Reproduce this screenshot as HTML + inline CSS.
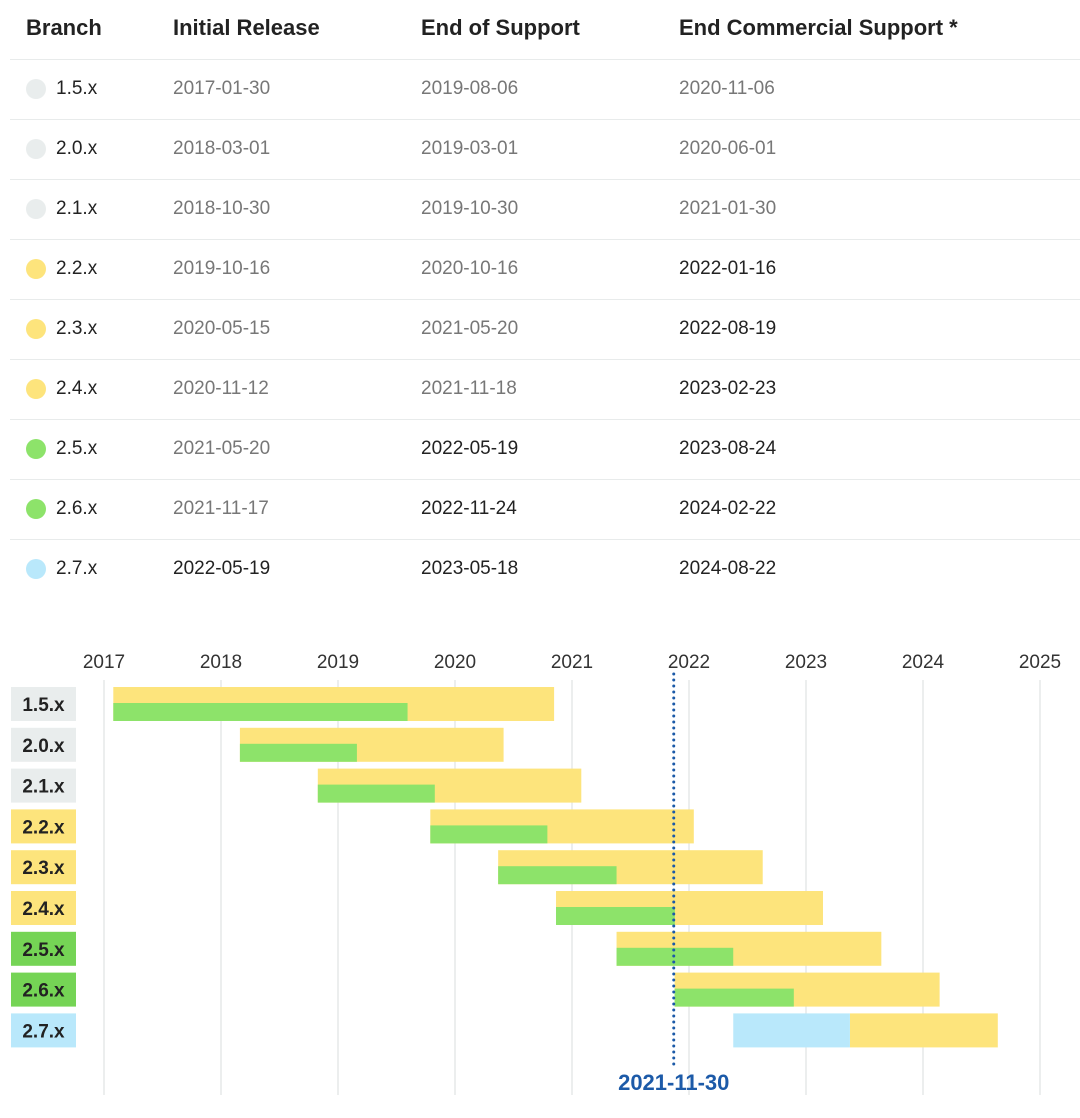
<!DOCTYPE html>
<html><head><meta charset="utf-8"><style>
body{margin:0;width:1080px;height:1118px;background:#fff;font-family:"Liberation Sans","DejaVu Sans",sans-serif;overflow:hidden;position:relative}
.t{position:absolute;font-size:19px;white-space:nowrap}
.h{font-weight:bold;font-size:22px;color:#222;top:15px}
.sep{position:absolute;left:10px;width:1070px;height:1px;background:#e8ebeb}
.dot{position:absolute;width:20px;height:20px;border-radius:50%;left:26px}
</style></head><body>
<div id="table"></div>
<svg id="chart" width="1080" height="1118" style="position:absolute;left:0;top:0;pointer-events:none"></svg>
<script>
const branches=["1.5.x","2.0.x","2.1.x","2.2.x","2.3.x","2.4.x","2.5.x","2.6.x","2.7.x"];
const initialRelease=["2017-01-30","2018-03-01","2018-10-30","2019-10-16","2020-05-15","2020-11-12","2021-05-20","2021-11-17","2022-05-19"];
const endOfSupport=["2019-08-06","2019-03-01","2019-10-30","2020-10-16","2021-05-20","2021-11-18","2022-05-19","2022-11-24","2023-05-18"];
const endCommercial=["2020-11-06","2020-06-01","2021-01-30","2022-01-16","2022-08-19","2023-02-23","2023-08-24","2024-02-22","2024-08-22"];
const status=["eol","eol","eol","comm","comm","comm","oss","oss","new"];
const yearTicks=[2017,2018,2019,2020,2021,2022,2023,2024,2025];
const today="2021-11-30";
const statusColor={eol:"#e9eded",comm:"#fde47c",oss:"#8de36a",new:"#b9e8fb"};
const labelColor={eol:"#e9eded",comm:"#fde47c",oss:"#75d455",new:"#b9e8fb"};
const NOW=new Date("2021-12-01");

const tbl=document.getElementById('table');
function add(html){tbl.insertAdjacentHTML('beforeend',html);}
const cols=[26,173,421,679];
const heads=["Branch","Initial Release","End of Support","End Commercial Support *"];
heads.forEach((h,i)=>add(`<div class="t h" style="left:${cols[i]}px">${h}</div>`));
add(`<div class="sep" style="top:59px"></div>`);
branches.forEach((b,i)=>{
  const y=89+i*60;
  add(`<div class="dot" style="top:${y-10}px;background:${statusColor[status[i]]}"></div>`);
  add(`<div class="t" style="left:56px;top:${y-11}px;color:#222">${b}</div>`);
  [initialRelease,endOfSupport,endCommercial].forEach((arr,c)=>{
    const past=new Date(arr[i])<NOW;
    add(`<div class="t" style="left:${cols[c+1]}px;top:${y-11}px;color:${past?'#777':'#222'}">${arr[i]}</div>`);
  });
  if(i<branches.length-1) add(`<div class="sep" style="top:${y+30}px"></div>`);
});

const svg=document.getElementById('chart');
const NS="http://www.w3.org/2000/svg";
function el(t,a){const e=document.createElementNS(NS,t);for(const k in a)e.setAttribute(k,a[k]);svg.appendChild(e);return e;}
function yr(s){const d=new Date(s);const y=d.getUTCFullYear();const st=Date.UTC(y,0,1),en=Date.UTC(y+1,0,1);return y+(d-st)/(en-st);}
const x0=104,pxYear=117.0;
function X(v){return x0+(v-2017)*pxYear;}
function rowY(i){return 687+i*40.8;}
yearTicks.forEach(t=>{
  const g=el('line',{x1:X(t),x2:X(t),y1:680,y2:1095,stroke:'#e6e8e8','stroke-width':1.5});
  
  
  const tx=el('text',{x:X(t),y:668,'text-anchor':'middle','font-size':19,fill:'#333','font-family':'Liberation Sans, sans-serif'});
  tx.textContent=t;
  
  
});
branches.forEach((b,i)=>{
  const y=rowY(i);
  const lb=el('rect',{x:11,y:y,width:65,height:34,fill:labelColor[status[i]]});
  
  
  const lt=el('text',{x:43.5,y:y+24,'text-anchor':'middle','font-size':19,'font-weight':'bold',fill:'#222','font-family':'Liberation Sans, sans-serif'});
  lt.textContent=b;
  
  
  const xs=X(yr(initialRelease[i])),xe=X(yr(endOfSupport[i])),xc=X(yr(endCommercial[i]));
  if(status[i]==="new"){
    const c=el('rect',{x:xe,y:y,width:xc-xe,height:34,fill:'#fde47c'});
    
    
    const o=el('rect',{x:xs,y:y,width:xe-xs,height:34,fill:'#b9e8fb'});
    
    
  } else {
    const c=el('rect',{x:xs,y:y,width:xc-xs,height:34,fill:'#fde47c'});
    
    
    const o=el('rect',{x:xs,y:y+16,width:xe-xs,height:18,fill:'#8de36a'});
    
    
  }
});
const tx=X(yr(today))-5;
const tl=el('line',{x1:tx,x2:tx,y1:674,y2:1070,stroke:'#1c5aa8','stroke-width':3,'stroke-dasharray':'0 6','stroke-linecap':'round'});


const tt=el('text',{x:tx,y:1090,'text-anchor':'middle','font-size':22,'font-weight':'bold',fill:'#1c5aa8','font-family':'Liberation Sans, sans-serif'});
tt.textContent=today;


</script>
</body></html>
